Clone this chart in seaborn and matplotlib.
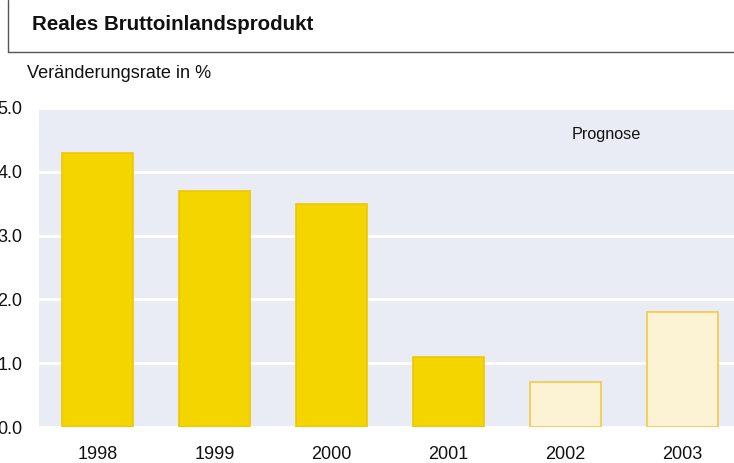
import matplotlib
matplotlib.use("Agg")
import matplotlib.pyplot as plt
import seaborn as sns
import pandas as pd
from matplotlib.lines import Line2D

years = ["1998", "1999", "2000", "2001", "2002", "2003"]
values = [4.3, 3.7, 3.5, 1.1, 0.7, 1.8]
status = ["Ist", "Ist", "Ist", "Ist", "Prognose", "Prognose"]
yticks = [0.0, 1.0, 2.0, 3.0, 4.0, 5.0]

title = "Reales Bruttoinlandsprodukt"
subtitle = "Veränderungsrate in %"
note = "Prognose"

sns.set_theme(style="darkgrid")
plt.rcParams["font.family"] = ["Liberation Sans", "DejaVu Sans"]

df = pd.DataFrame({"Jahr": years, "Wert": values, "Status": status})

W, H = 734, 463
fig = plt.figure(figsize=(W / 100, H / 100), dpi=100)
ax = fig.add_axes([39 / W, 1 - 427 / H, (741 - 39) / W, (427 - 108) / H])

face = {"Ist": "#F5D500", "Prognose": "#FCF3D5"}
edge = {"Ist": "#F0C600", "Prognose": "#F5C940"}

sns.barplot(data=df, x="Jahr", y="Wert", hue="Status", palette=face,
            dodge=False, width=0.6, legend=False, ax=ax, saturation=1)
levels = list(dict.fromkeys(status))
for lvl, cont in zip(levels, ax.containers):
    for p in cont:
        p.set_edgecolor(edge[lvl])
        p.set_linewidth(1.2)

ax.set_facecolor("#E9EBF5")
ax.set_ylim(0, 5)
ax.set_xlim(-0.5, 5.5)
ax.set_yticks(yticks)
ax.set_yticklabels([f"{v:.1f}" for v in yticks])
ax.grid(axis="x", visible=False)
ax.grid(axis="y", color="white", linewidth=2)
ax.set_axisbelow(True)
for s in ax.spines.values():
    s.set_visible(False)
ax.set_xlabel("")
ax.set_ylabel("")
ax.tick_params(axis="both", length=0, labelsize=13, colors="#111111")
ax.tick_params(axis="y", pad=12)
ax.tick_params(axis="x", pad=14)

fig.text(606 / W, 1 - 135 / H, note, ha="center", va="center",
         fontsize=11.7, color="#111111")

fig.text(32 / W, 1 - 24 / H, title, ha="left", va="center",
         fontsize=14.8, fontweight="bold", color="#111111")
fig.text(27 / W, 1 - 73 / H, subtitle, ha="left", va="center",
         fontsize=13.1, color="#111111")
fig.add_artist(Line2D([8 / W, 8 / W], [1, 1 - 52 / H],
                      transform=fig.transFigure, color="#555555", linewidth=1))
fig.add_artist(Line2D([8 / W, 1], [1 - 52 / H, 1 - 52 / H],
                      transform=fig.transFigure, color="#555555", linewidth=1))

fig.savefig("out.png", dpi=100)
